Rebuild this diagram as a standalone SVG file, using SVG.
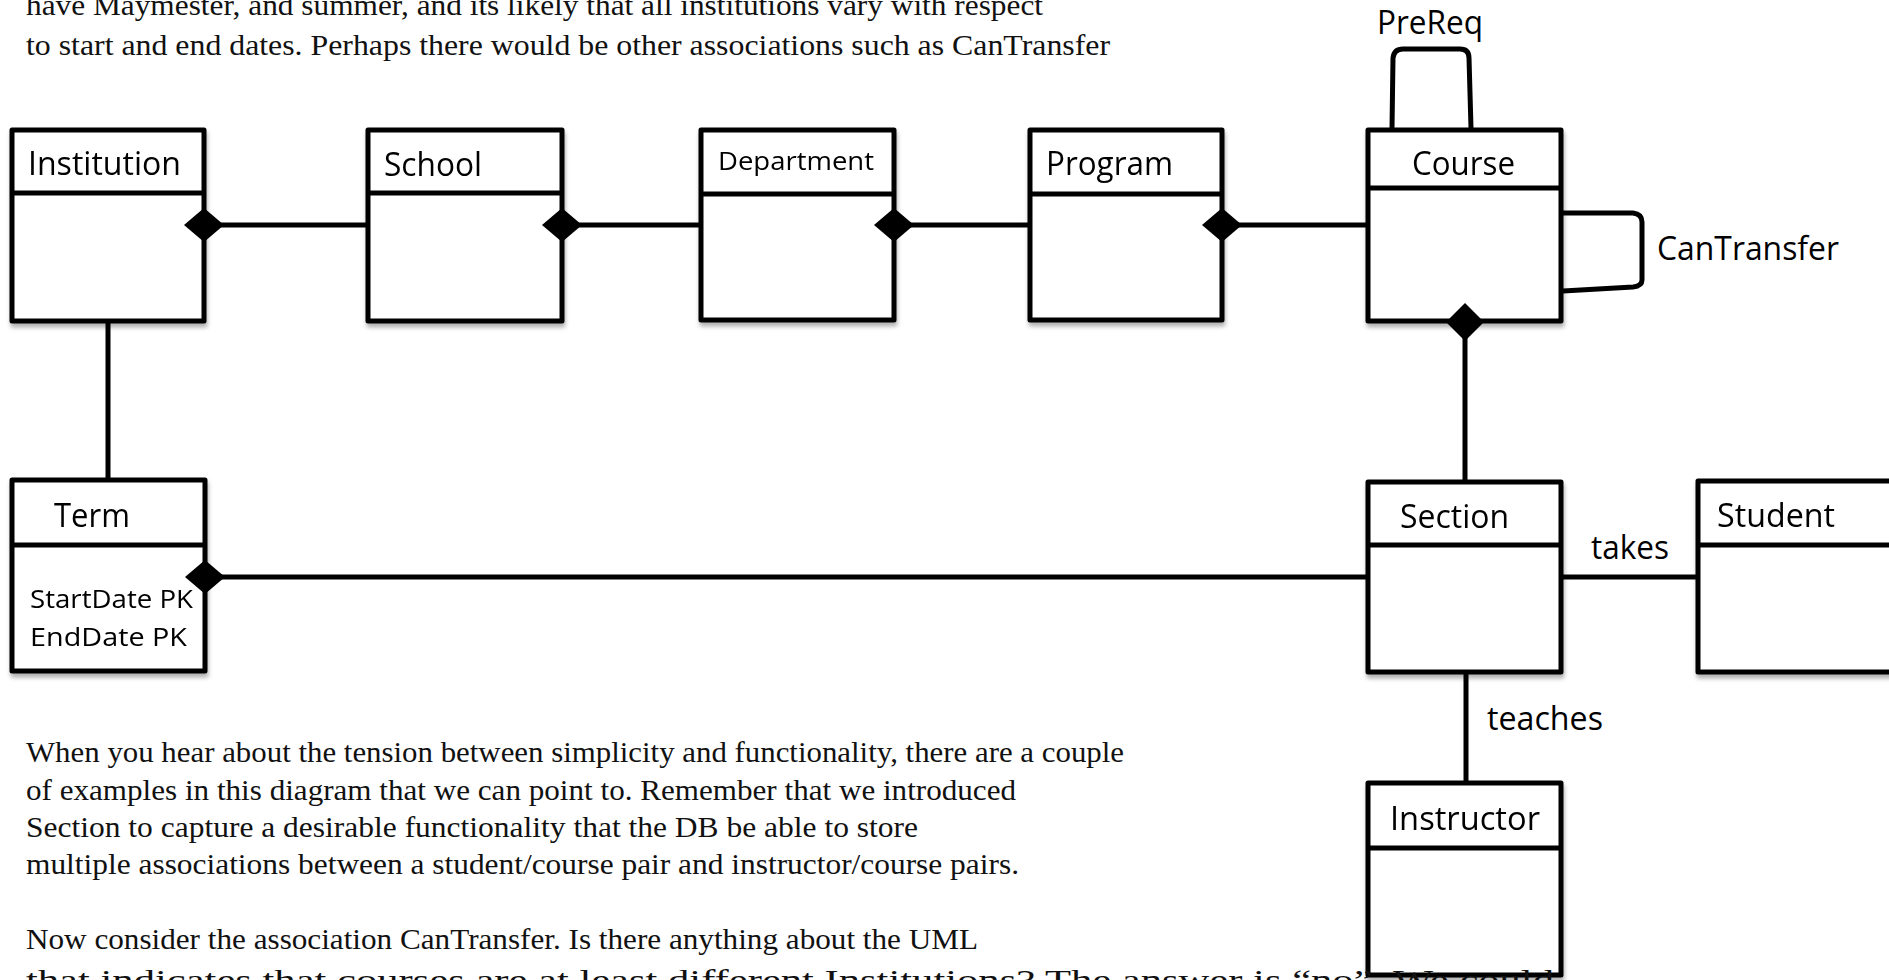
<svg xmlns="http://www.w3.org/2000/svg" width="1889" height="980" viewBox="0 0 1889 980">
<defs>
<filter id="sh" x="-10%" y="-10%" width="130%" height="130%">
<feDropShadow dx="1" dy="4" stdDeviation="2" flood-color="#000" flood-opacity="0.3"/>
</filter>
<style>
.box{fill:#fff;stroke:#000;stroke-width:5;stroke-linejoin:round}
.div{stroke:#000;stroke-width:5}
.lbl{font-family:"Open Sans","Noto Sans",sans-serif;font-size:32px;fill:#000}
.att{font-family:"Open Sans","Noto Sans",sans-serif;font-size:25px;fill:#000}
.para{font-family:"Liberation Serif","Times New Roman",serif;font-size:29px;fill:#111}
.ln{fill:none;stroke:#000;stroke-width:5;stroke-linejoin:round;stroke-linecap:butt}
.dm{fill:#000}
</style>
</defs>
<rect width="1889" height="980" fill="#fff"/>

<g id="text-top">
<text class="para" x="26" y="15" textLength="1017" lengthAdjust="spacingAndGlyphs">have Maymester, and summer, and its likely that all institutions vary with respect</text>
<text class="para" x="26" y="55" textLength="1084" lengthAdjust="spacingAndGlyphs">to start and end dates. Perhaps there would be other associations such as CanTransfer</text>
</g>

<g id="Institution" filter="url(#sh)">
<rect class="box" x="12" y="130" width="192" height="191"/>
<line class="div" x1="12" y1="193" x2="204" y2="193"/>
<text class="lbl" x="28" y="175" textLength="153" lengthAdjust="spacingAndGlyphs">Institution</text>
</g>

<g id="School" filter="url(#sh)">
<rect class="box" x="368" y="130" width="194" height="191"/>
<line class="div" x1="368" y1="193" x2="562" y2="193"/>
<text class="lbl" x="384" y="176" textLength="98" lengthAdjust="spacingAndGlyphs">School</text>
</g>

<g id="Department" filter="url(#sh)">
<rect class="box" x="701" y="130" width="193" height="190"/>
<line class="div" x1="701" y1="194" x2="894" y2="194"/>
<text class="att" x="718" y="170" textLength="156" lengthAdjust="spacingAndGlyphs">Department</text>
</g>

<g id="Program" filter="url(#sh)">
<rect class="box" x="1030" y="130" width="192" height="190"/>
<line class="div" x1="1030" y1="194" x2="1222" y2="194"/>
<text class="lbl" x="1046" y="175" textLength="127" lengthAdjust="spacingAndGlyphs">Program</text>
</g>

<g id="Course" filter="url(#sh)">
<rect class="box" x="1368" y="130" width="193" height="191"/>
<line class="div" x1="1368" y1="188" x2="1561" y2="188"/>
<text class="lbl" x="1412" y="175" textLength="103" lengthAdjust="spacingAndGlyphs">Course</text>
</g>

<g id="Term" filter="url(#sh)">
<rect class="box" x="12" y="480" width="193" height="191"/>
<line class="div" x1="12" y1="545" x2="205" y2="545"/>
<text class="lbl" x="54" y="527" textLength="76" lengthAdjust="spacingAndGlyphs">Term</text>
<text class="att" x="30" y="608" textLength="163" lengthAdjust="spacingAndGlyphs">StartDate PK</text>
<text class="att" x="30" y="646" textLength="157" lengthAdjust="spacingAndGlyphs">EndDate  PK</text>
</g>

<g id="Section" filter="url(#sh)">
<rect class="box" x="1368" y="482" width="193" height="190"/>
<line class="div" x1="1368" y1="545" x2="1561" y2="545"/>
<text class="lbl" x="1400" y="528" textLength="109" lengthAdjust="spacingAndGlyphs">Section</text>
</g>

<g id="Student" filter="url(#sh)">
<rect class="box" x="1698" y="481" width="200" height="191"/>
<line class="div" x1="1698" y1="545" x2="1898" y2="545"/>
<text class="lbl" x="1717" y="527" textLength="118" lengthAdjust="spacingAndGlyphs">Student</text>
</g>

<g id="Instructor" filter="url(#sh)">
<rect class="box" x="1368" y="783" width="193" height="192"/>
<line class="div" x1="1368" y1="848" x2="1561" y2="848"/>
<text class="lbl" x="1390" y="830" textLength="150" lengthAdjust="spacingAndGlyphs">Instructor</text>
</g>

<g id="connectors">
<line class="ln" x1="204" y1="225" x2="368" y2="225"/>
<line class="ln" x1="562" y1="225" x2="701" y2="225"/>
<line class="ln" x1="894" y1="225" x2="1030" y2="225"/>
<line class="ln" x1="1222" y1="225" x2="1368" y2="225"/>
<line class="ln" x1="108" y1="323" x2="108" y2="478"/>
<line class="ln" x1="205" y1="577" x2="1368" y2="577"/>
<line class="ln" x1="1465" y1="322" x2="1465" y2="480"/>
<line class="ln" x1="1561" y1="577" x2="1698" y2="577"/>
<line class="ln" x1="1466" y1="674" x2="1466" y2="781"/>
<path class="ln" d="M1392,128 L1393,58 Q1394,49 1403,49 L1460,49 Q1469,49 1469,58 L1471,128"/>
<path class="ln" d="M1563,213 L1633,213 Q1642,214 1642,222 L1642,280 Q1642,286 1633,287 L1563,291"/>
<polygon class="dm" points="184,225 204,208 224,225 204,242"/>
<polygon class="dm" points="542,225 562,208 582,225 562,242"/>
<polygon class="dm" points="874,225 894,208 914,225 894,242"/>
<polygon class="dm" points="1202,225 1222,208 1242,225 1222,242"/>
<polygon class="dm" points="185,577 205,560 225,577 205,594"/>
<polygon class="dm" points="1446,322 1465,303 1484,322 1465,341"/>
<text class="lbl" x="1377" y="34" textLength="106" lengthAdjust="spacingAndGlyphs">PreReq</text>
<text class="lbl" x="1657" y="260" textLength="182" lengthAdjust="spacingAndGlyphs">CanTransfer</text>
<text class="lbl" x="1591" y="559" textLength="78" lengthAdjust="spacingAndGlyphs">takes</text>
<text class="lbl" x="1487" y="730" textLength="116" lengthAdjust="spacingAndGlyphs">teaches</text>
</g>

<g id="text-bottom">
<text class="para" x="26" y="762" textLength="1098" lengthAdjust="spacingAndGlyphs">When you hear about the tension between simplicity and functionality, there are a couple</text>
<text class="para" x="26" y="800" textLength="990" lengthAdjust="spacingAndGlyphs">of  examples in this diagram that we can point to. Remember that we introduced</text>
<text class="para" x="26" y="837" textLength="892" lengthAdjust="spacingAndGlyphs">Section to capture a desirable functionality that the DB be able to store</text>
<text class="para" x="26" y="874" textLength="993" lengthAdjust="spacingAndGlyphs">multiple associations between a student/course pair and instructor/course pairs.</text>
<text class="para" x="26" y="949" textLength="952" lengthAdjust="spacingAndGlyphs">Now consider the association CanTransfer. Is there anything about the UML</text>
<text class="para" x="26" y="990" textLength="1528" lengthAdjust="spacingAndGlyphs">that indicates that courses are at least different Institutions? The answer is “no”. We could</text>
</g>
</svg>
